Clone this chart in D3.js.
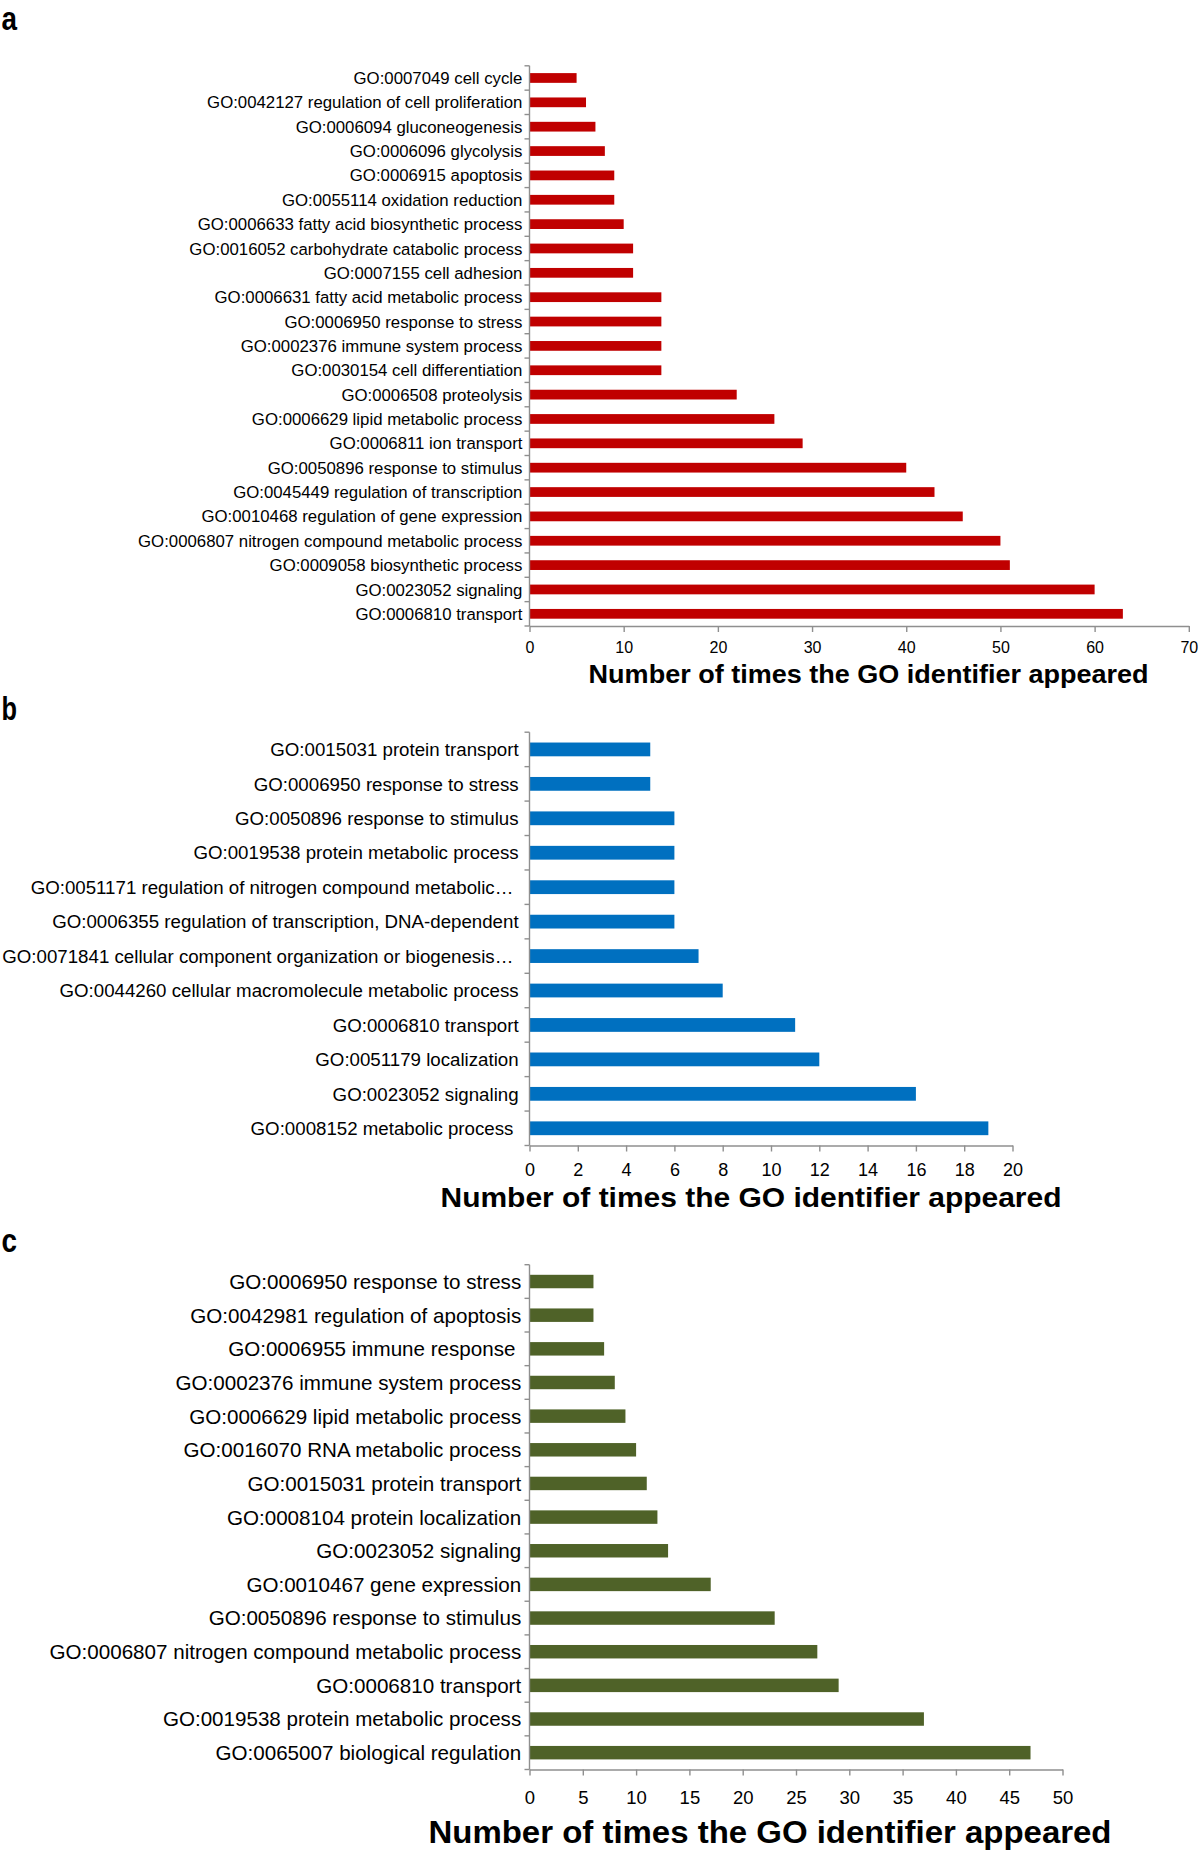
<!DOCTYPE html>
<html>
<head>
<meta charset="utf-8">
<script src="https://cdn.jsdelivr.net/npm/d3@7"></script>
<style>
  body { margin: 0; background: #fff; }
  svg text { font-family: "Liberation Sans", Arial, Helvetica, sans-serif; fill: #000; white-space: pre; }
</style>
</head>
<body>
<svg id="chart" width="1200" height="1852"></svg>
<script>
// panel a
aLabels = [
  'GO:0007049 cell cycle',
  'GO:0042127 regulation of cell proliferation',
  'GO:0006094 gluconeogenesis',
  'GO:0006096 glycolysis',
  'GO:0006915 apoptosis',
  'GO:0055114 oxidation reduction',
  'GO:0006633 fatty acid biosynthetic process',
  'GO:0016052 carbohydrate catabolic process',
  'GO:0007155 cell adhesion',
  'GO:0006631 fatty acid metabolic process',
  'GO:0006950 response to stress',
  'GO:0002376 immune system process',
  'GO:0030154 cell differentiation',
  'GO:0006508 proteolysis',
  'GO:0006629 lipid metabolic process',
  'GO:0006811 ion transport',
  'GO:0050896 response to stimulus',
  'GO:0045449 regulation of transcription',
  'GO:0010468 regulation of gene expression',
  'GO:0006807 nitrogen compound metabolic process',
  'GO:0009058 biosynthetic process',
  'GO:0023052 signaling',
  'GO:0006810 transport'
];
aValues = [5, 6, 7, 8, 9, 9, 10, 11, 11, 14, 14, 14, 14, 22, 26, 29, 40, 43, 46, 50, 51, 60, 63];
aTicks = [0, 10, 20, 30, 40, 50, 60, 70];

// panel b
bLabels = [
  'GO:0015031 protein transport',
  'GO:0006950 response to stress',
  'GO:0050896 response to stimulus',
  'GO:0019538 protein metabolic process',
  'GO:0051171 regulation of nitrogen compound metabolic\u2026 ',
  'GO:0006355 regulation of transcription, DNA-dependent',
  'GO:0071841 cellular component organization or biogenesis\u2026 ',
  'GO:0044260 cellular macromolecule metabolic process',
  'GO:0006810 transport',
  'GO:0051179 localization',
  'GO:0023052 signaling',
  'GO:0008152 metabolic process '
];
bValues = [5, 5, 6, 6, 6, 6, 7, 8, 11, 12, 16, 19];
bTicks = [0, 2, 4, 6, 8, 10, 12, 14, 16, 18, 20];

// panel c
cLabels = [
  'GO:0006950 response to stress',
  'GO:0042981 regulation of apoptosis',
  'GO:0006955 immune response ',
  'GO:0002376 immune system process',
  'GO:0006629 lipid metabolic process',
  'GO:0016070 RNA metabolic process',
  'GO:0015031 protein transport',
  'GO:0008104 protein localization',
  'GO:0023052 signaling',
  'GO:0010467 gene expression',
  'GO:0050896 response to stimulus',
  'GO:0006807 nitrogen compound metabolic process',
  'GO:0006810 transport',
  'GO:0019538 protein metabolic process',
  'GO:0065007 biological regulation'
];
cValues = [6, 6, 7, 8, 9, 10, 11, 12, 13, 17, 23, 27, 29, 37, 47];
cTicks = [0, 5, 10, 15, 20, 25, 30, 35, 40, 45, 50];

axisTitle = 'Number of times the GO identifier appeared';
axisColor = '#8f8f8f';

svg = d3.select('#chart');

panels = [
  {letter: 'a', labels: aLabels, values: aValues, ticks: aTicks, color: '#c00000',
   letterY: 30, top: 65.8, bottom: 626, x0: 529.5, x1: 1188.8,
   labelX: 522.4, labelSize: 16.8, tickSize: 16, tickPad: 10,
   titleX: 868.6, titleY: 682.5, titleSize: 26, titleW: 560},
  {letter: 'b', labels: bLabels, values: bValues, ticks: bTicks, color: '#0070c0',
   letterY: 720, top: 732.2, bottom: 1145.5, x0: 529.5, x1: 1012.5,
   labelX: 518.6, labelSize: 18.7, tickSize: 18, tickPad: 12,
   titleX: 751, titleY: 1207, titleSize: 27.5, titleW: 621},
  {letter: 'c', labels: cLabels, values: cValues, ticks: cTicks, color: '#4f6228',
   letterY: 1252, top: 1264.7, bottom: 1769.5, x0: 529.5, x1: 1062.5,
   labelX: 521.2, labelSize: 20.6, tickSize: 18.5, tickPad: 15,
   titleX: 770, titleY: 1843, titleSize: 31, titleW: 683}
];

panels.forEach(drawPanel);

function drawPanel(p){
  let g = svg.append('g');
  let n = p.labels.length;

  let x = d3.scaleLinear()
    .domain([p.ticks[0], p.ticks[p.ticks.length-1]])
    .range([p.x0, p.x1]);
  let y = d3.scaleBand()
    .domain(p.labels)
    .range([p.top, p.bottom])
    .paddingInner(0.6)
    .paddingOuter(0.3);

  // bars
  g.selectAll('rect.bar')
    .data(p.values)
    .enter().append('rect')
      .attr('class', 'bar')
      .attr('x', x(0))
      .attr('y', (d, i) => y(p.labels[i]))
      .attr('width', d => x(d) - x(0))
      .attr('height', y.bandwidth())
      .attr('fill', p.color);

  // y axis line + category ticks
  g.append('line')
    .attr('x1', x(0)).attr('x2', x(0))
    .attr('y1', p.top).attr('y2', p.bottom)
    .attr('stroke', axisColor).attr('stroke-width', 1.4);
  g.selectAll('line.ytick')
    .data(d3.range(n + 1))
    .enter().append('line')
      .attr('class', 'ytick')
      .attr('x1', x(0) - 5).attr('x2', x(0))
      .attr('y1', i => p.top + i * y.step())
      .attr('y2', i => p.top + i * y.step())
      .attr('stroke', axisColor).attr('stroke-width', 1.4);

  // category labels
  g.selectAll('text.cat')
    .data(p.labels)
    .enter().append('text')
      .attr('class', 'cat')
      .attr('x', p.labelX)
      .attr('y', d => y(d) + y.bandwidth()/2)
      .attr('dy', '0.36em')
      .attr('text-anchor', 'end')
      .style('font-size', p.labelSize + 'px')
      .text(d => d);

  // x axis
  let xAxis = d3.axisBottom(x)
    .tickValues(p.ticks)
    .tickSize(6)
    .tickSizeOuter(0)
    .tickPadding(p.tickPad)
    .tickFormat(d3.format('d'));
  let ax = g.append('g')
    .attr('transform', `translate(0,${p.bottom})`)
    .call(xAxis);
  ax.select('.domain').attr('stroke', axisColor).attr('stroke-width', 1.4);
  ax.selectAll('.tick line').attr('stroke', axisColor).attr('stroke-width', 1.4);
  ax.selectAll('.tick text')
    .attr('fill', '#000')
    .style('font-family', '"Liberation Sans", Arial, sans-serif')
    .style('font-size', p.tickSize + 'px');

  // axis title
  g.append('text')
    .attr('x', p.titleX)
    .attr('y', p.titleY)
    .attr('text-anchor', 'middle')
    .attr('textLength', p.titleW)
    .attr('lengthAdjust', 'spacingAndGlyphs')
    .style('font-size', p.titleSize + 'px')
    .style('font-weight', 'bold')
    .text(axisTitle);

  // panel letter
  g.append('text')
    .attr('x', 1.5)
    .attr('y', p.letterY)
    .attr('textLength', 15.5)
    .attr('lengthAdjust', 'spacingAndGlyphs')
    .style('font-size', '34px')
    .style('font-weight', 'bold')
    .text(p.letter);
}
</script>
</body>
</html>
